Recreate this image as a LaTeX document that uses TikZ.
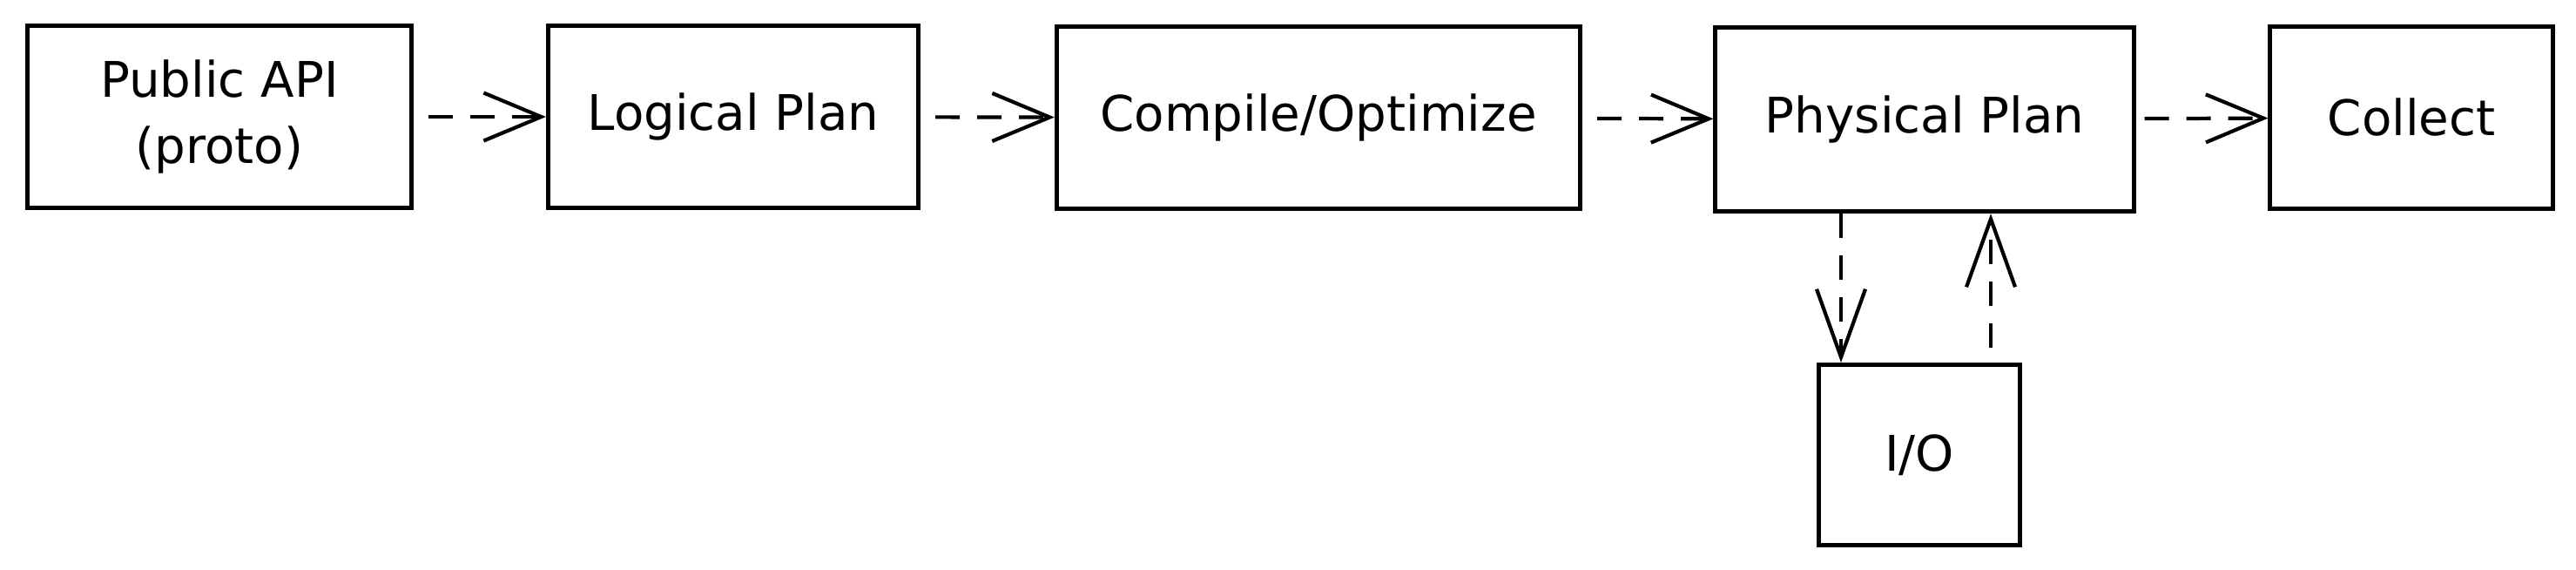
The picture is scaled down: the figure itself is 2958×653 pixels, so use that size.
\documentclass[tikz,border=0pt]{standalone}
\usepackage{fontspec}
\setmainfont{DejaVu Sans}
\usepackage{tikz}
\usetikzlibrary{arrows.meta}

\begin{document}
\begin{tikzpicture}[x=0.01cm,y=-0.01cm,
    box/.style={draw,line width=1.4pt,minimum height=2.09cm,align=center,
        inner sep=0pt,font=\fontsize{16pt}{21.5pt}\selectfont},
    flow/.style={line width=1.2pt,dash pattern=on 0.28cm off 0.2cm,
        -{Straight Barb[length=0.66cm,width=0.55cm,line width=1.2pt]}},
    flowv/.style={flow,-{Straight Barb[length=0.78cm,width=0.56cm,line width=1.2pt]}},
]
    \useasboundingbox (0,0) rectangle (2958,653);
    % main line
    \node[box,minimum width=4.40cm] (api) at (252,134) {Public API\\(proto)};
    \node[box,minimum width=4.25cm] (logical) at (842,134) {Logical Plan};
    \node[box,minimum width=6.01cm] (compile) at (1514,135) {Compile/Optimize};
    \node[box,minimum width=4.80cm,minimum height=2.11cm] (physical) at (2210,137) {Physical Plan};
    \node[box,minimum width=3.24cm] (collect) at (2769,135) {Collect};
    % side branch
    \node[box,minimum width=2.31cm,minimum height=2.07cm] (io) at (2204,522) {I/O};
    \draw[flow,shorten <=0.17cm] (api) -- (logical);
    \draw[flow,shorten <=0.17cm] (logical) -- (compile);
    \draw[flow,shorten <=0.17cm] (compile) -- (physical);
    \draw[flow,shorten <=0.10cm] (physical) -- (collect);
    \draw[flowv] ([xshift=0.28cm]io.north west |- physical.south) -- ([xshift=0.28cm]io.north west);
    \draw[flowv] ([xshift=-0.36cm,yshift=0.17cm]io.north east) -- ([xshift=-0.36cm]io.north east |- physical.south);
\end{tikzpicture}
\end{document}
